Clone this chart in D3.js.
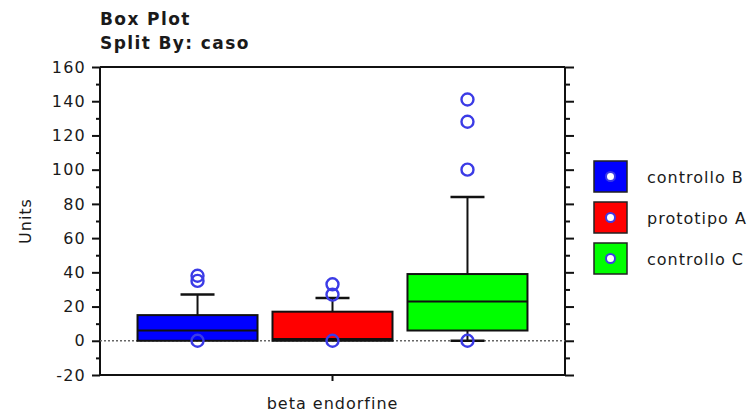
<!DOCTYPE html>
<html>
<head>
<meta charset="utf-8">
<script src="https://cdn.jsdelivr.net/npm/d3@7"></script>
<style>
  body { margin: 0; background: #fff; }
  text { font-family: "DejaVu Sans", Verdana, sans-serif; fill: #1a1a1a; }
</style>
</head>
<body>
<div id="chart"></div>
<script>
// box plot, split by caso
var groups = ["controllo B", "prototipo A", "controllo C"];
var colors = ["#0000ff", "#ff0000", "#00ff00"];
var q1 = [0, 0, 6];
var medians = [6, 1, 23];
var q3 = [15, 17, 39];
var whiskLow = [0, 0, 0];
var whiskHigh = [27, 25, 84];
var outliers = [[0, 35, 38], [0, 27, 33], [0, 100, 128, 141]];
var yMajor = [-20, 0, 20, 40, 60, 80, 100, 120, 140, 160];
var yMinor = [-10, 10, 30, 50, 70, 90, 110, 130, 150];

var svgWidth = 755, svgHeight = 415;
var margin = {top: 67, right: 190, bottom: 40, left: 100};
var width = svgWidth - margin.left - margin.right;
var height = svgHeight - margin.top - margin.bottom;

var svg = d3.select("#chart").append("svg")
    .attr("width", svgWidth)
    .attr("height", svgHeight);

var g = svg.append("g")
    .attr("transform", `translate(${margin.left}, ${margin.top})`);

var x = d3.scaleBand().domain(groups).range([0, width])
    .paddingInner(0.111).paddingOuter(0.278);
var y = d3.scaleLinear().domain([-20, 160]).range([height, 0]);

// titles
svg.append("text").attr("x", 100).attr("y", 25)
    .style("font-weight", "bold").style("font-size", "17px").style("letter-spacing", "1.4px")
    .text("Box Plot");
svg.append("text").attr("x", 100).attr("y", 49)
    .style("font-weight", "bold").style("font-size", "17px").style("letter-spacing", "1.4px")
    .text("Split By: caso");

// axes
var leftAxis = g.append("g").call(d3.axisLeft(y).tickValues(yMajor).tickSize(8).tickPadding(6)
    .tickFormat(d => String(d)));
g.append("g").call(d3.axisLeft(y).tickValues(yMinor).tickSize(4).tickFormat(""));
g.append("g").attr("transform", `translate(${width},0)`)
    .call(d3.axisRight(y).tickValues(yMajor).tickSize(9).tickFormat(""));
g.append("g").attr("transform", `translate(${width},0)`)
    .call(d3.axisRight(y).tickValues(yMinor).tickSize(5).tickFormat(""));
g.selectAll(".domain").remove();
g.selectAll(".tick line").attr("stroke", "#111").attr("stroke-width", 2);
leftAxis.selectAll("text").style("font-size", "16px").style("letter-spacing", "1.2px")
    .attr("fill", "#1a1a1a");

// frame lines
g.append("line").attr("x1", 0).attr("x2", width).attr("y1", 0).attr("y2", 0)
    .attr("stroke", "#111").attr("stroke-width", 2);
g.append("line").attr("x1", 0).attr("x2", width).attr("y1", height).attr("y2", height)
    .attr("stroke", "#111").attr("stroke-width", 2);
g.append("line").attr("x1", 0).attr("x2", 0).attr("y1", 0).attr("y2", height)
    .attr("stroke", "#111").attr("stroke-width", 2);
g.append("line").attr("x1", width).attr("x2", width).attr("y1", 0).attr("y2", height)
    .attr("stroke", "#111").attr("stroke-width", 2);
g.append("line").attr("x1", width / 2).attr("x2", width / 2).attr("y1", height).attr("y2", height + 6)
    .attr("stroke", "#111").attr("stroke-width", 2);

// zero line
g.append("line").attr("x1", 0).attr("x2", width).attr("y1", y(0)).attr("y2", y(0))
    .attr("stroke", "#666").attr("stroke-width", 1.5).attr("stroke-dasharray", "2,2");

// boxes
groups.forEach(function(name, i) {
    var cx = x(name) + x.bandwidth() / 2;
    var capW = 34;
    // whiskers
    g.append("line").attr("x1", cx).attr("x2", cx)
        .attr("y1", y(q3[i])).attr("y2", y(whiskHigh[i]))
        .attr("stroke", "#111").attr("stroke-width", 2);
    g.append("line").attr("x1", cx - capW / 2).attr("x2", cx + capW / 2)
        .attr("y1", y(whiskHigh[i])).attr("y2", y(whiskHigh[i]))
        .attr("stroke", "#111").attr("stroke-width", 2.5);
    if (whiskLow[i] < q1[i]) {
        g.append("line").attr("x1", cx).attr("x2", cx)
            .attr("y1", y(q1[i])).attr("y2", y(whiskLow[i]))
            .attr("stroke", "#111").attr("stroke-width", 2);
        g.append("line").attr("x1", cx - capW / 2).attr("x2", cx + capW / 2)
            .attr("y1", y(whiskLow[i])).attr("y2", y(whiskLow[i]))
            .attr("stroke", "#111").attr("stroke-width", 2.5);
    }
    g.append("rect")
        .attr("x", x(name)).attr("width", x.bandwidth())
        .attr("y", y(q3[i])).attr("height", y(q1[i]) - y(q3[i]))
        .attr("fill", colors[i]).attr("stroke", "#111").attr("stroke-width", 2);
    g.append("line").attr("x1", x(name)).attr("x2", x(name) + x.bandwidth())
        .attr("y1", y(medians[i])).attr("y2", y(medians[i]))
        .attr("stroke", "#111").attr("stroke-width", 2);
    g.selectAll(null).data(outliers[i]).enter().append("circle")
        .attr("cx", cx).attr("cy", d => y(d)).attr("r", 6)
        .attr("fill", "none").attr("stroke", "#3b3be6").attr("stroke-width", 2.4);
});

// axis titles
svg.append("text")
    .attr("transform", `translate(31, ${margin.top + y(70)}) rotate(-90)`)
    .attr("text-anchor", "middle").style("font-size", "16px").style("letter-spacing", "1px")
    .text("Units");
svg.append("text")
    .attr("x", margin.left + width / 2).attr("y", 409)
    .attr("text-anchor", "middle").style("font-size", "16px").style("letter-spacing", "1px")
    .text("beta endorfine");

// legend
var legend = svg.append("g").attr("transform", "translate(594, 161)");
groups.forEach(function(name, i) {
    var row = legend.append("g").attr("transform", `translate(0, ${i * 41})`);
    row.append("rect").attr("width", 33).attr("height", 31)
        .attr("fill", colors[i]).attr("stroke", "#222").attr("stroke-width", 1.5);
    row.append("circle").attr("cx", 16.5).attr("cy", 15.5).attr("r", 4.5)
        .attr("fill", "#fff").attr("stroke", "#3b3be6").attr("stroke-width", 2);
    row.append("text").attr("x", 53).attr("y", 22)
        .style("font-size", "16px").style("letter-spacing", "1px")
        .text(name);
});
</script>
</body>
</html>
